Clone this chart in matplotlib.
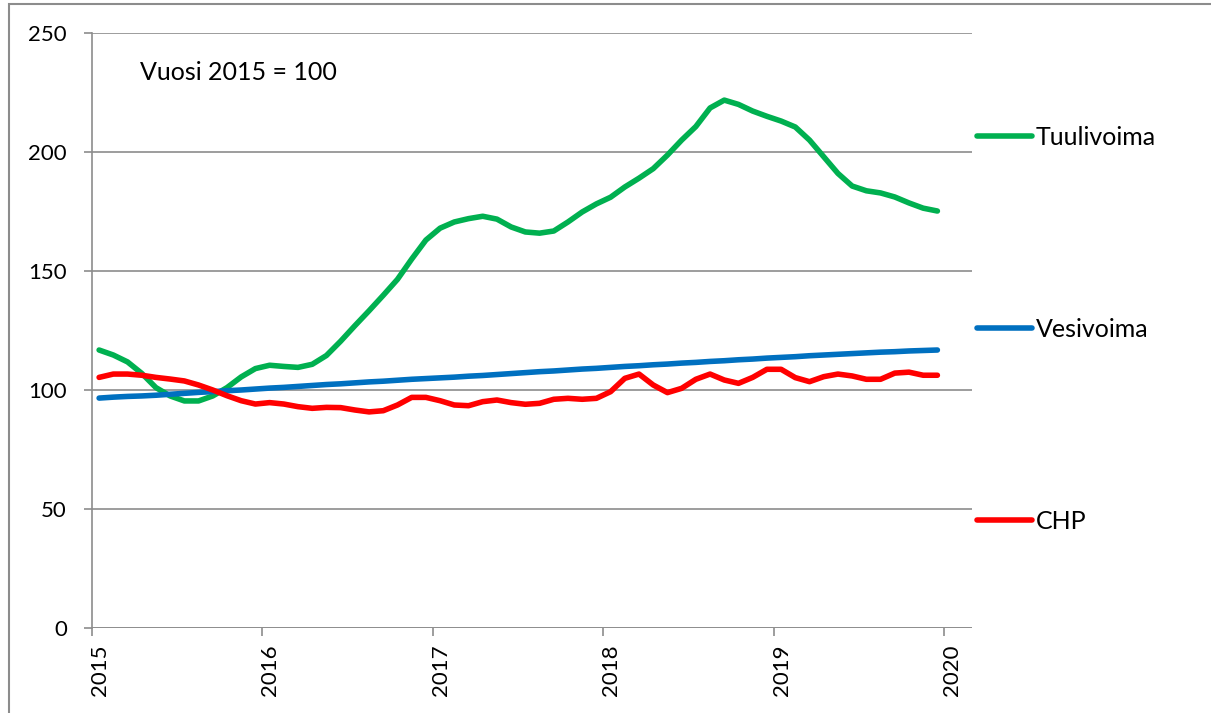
import numpy as np
import matplotlib
matplotlib.use("Agg")
import matplotlib.pyplot as plt
import matplotlib.transforms as mtransforms
from matplotlib.patches import Rectangle

plt.rcParams['font.family'] = ['Lato', 'DejaVu Sans']

# monthly index values 2015-01 ... 2019-12 (2015 = 100)
tuulivoima = [116.8, 114.7, 111.8, 107.0, 101.0, 97.5, 95.4, 95.4, 97.5, 101.0,
              105.5, 109.0, 110.4, 109.9, 109.5, 110.8, 114.5, 120.5, 127.0, 133.3,
              139.8, 146.5, 155.0, 163.0, 168.0, 170.6, 172.0, 173.0, 171.8, 168.5,
              166.4, 165.9, 166.8, 170.6, 174.8, 178.2, 181.0, 185.3, 189.0, 193.0,
              198.7, 205.0, 210.7, 218.5, 221.8, 220.0, 217.2, 215.0, 213.0, 210.5,
              205.0, 198.0, 191.0, 185.7, 183.7, 182.8, 181.1, 178.6, 176.4, 175.2]
vesivoima = [96.6, 97.0, 97.3, 97.5, 97.8, 98.2, 98.6, 99.0, 99.3, 99.7,
             100.0, 100.4, 100.8, 101.1, 101.5, 101.9, 102.3, 102.6, 103.0, 103.4,
             103.7, 104.1, 104.5, 104.8, 105.1, 105.4, 105.8, 106.1, 106.5, 106.9,
             107.3, 107.7, 108.0, 108.4, 108.8, 109.1, 109.5, 109.9, 110.2, 110.6,
             110.9, 111.3, 111.6, 112.0, 112.3, 112.7, 113.0, 113.4, 113.7, 114.0,
             114.4, 114.7, 115.0, 115.3, 115.6, 115.9, 116.1, 116.4, 116.6, 116.8]
chp = [105.3, 106.7, 106.7, 106.2, 105.3, 104.6, 103.8, 102.1, 100.0, 97.6,
       95.5, 94.1, 94.7, 94.1, 93.0, 92.3, 92.7, 92.6, 91.6, 90.8,
       91.3, 93.7, 96.9, 96.9, 95.5, 93.7, 93.4, 95.1, 95.8, 94.7,
       94.0, 94.4, 96.1, 96.5, 96.1, 96.5, 99.3, 104.9, 106.7, 102.1,
       98.9, 100.7, 104.5, 106.7, 104.2, 102.8, 105.3, 108.7, 108.7, 105.2,
       103.5, 105.6, 106.7, 105.9, 104.5, 104.5, 107.1, 107.5, 106.2, 106.2]
years = [2015, 2016, 2017, 2018, 2019, 2020]
yticks = [0, 50, 100, 150, 200, 250]

# mid-month positions in decimal years
months = np.arange(len(tuulivoima))
x = years[0] + (months + 0.5) / 12

fig = plt.figure(figsize=(12.11, 7.13), dpi=100)
ax = fig.add_axes([92 / 1211, 1 - 628 / 713, 880 / 1211, 595 / 713])

grid_col = '#8c8c8c'
lw = 4.0
ax.plot(x, tuulivoima, color='#00B050', lw=lw, solid_capstyle='round',
        solid_joinstyle='round', label='Tuulivoima')
ax.plot(x, vesivoima, color='#0070C0', lw=lw, solid_capstyle='round',
        solid_joinstyle='round', label='Vesivoima')
ax.plot(x, chp, color='#FF0000', lw=lw, solid_capstyle='round',
        solid_joinstyle='round', label='CHP')

ax.set_xlim(2015, 2015 + 880 / 170.5)
ax.set_ylim(0, 250)
ax.set_yticks(yticks)
ax.set_xticks(years)
ax.set_xticklabels([str(y) for y in years], rotation=90)
ax.yaxis.grid(True, color=grid_col, lw=1.2)
ax.set_axisbelow(True)
for s in ['top', 'right', 'bottom']:
    ax.spines[s].set_visible(False)
ax.spines['left'].set_color(grid_col)
ax.spines['left'].set_linewidth(1.2)
ax.axhline(0, color=grid_col, lw=1.2, zorder=0.5)
ax.tick_params(axis='y', length=6, width=1.2, color=grid_col, pad=12,
               labelsize=16, labelcolor='black')
ax.tick_params(axis='x', length=6, width=1.2, color=grid_col, pad=6,
               labelsize=16, labelcolor='black')
offset = mtransforms.ScaledTranslation(8 / 100, 0, fig.dpi_scale_trans)
for lab in ax.get_xticklabels():
    lab.set_transform(lab.get_transform() + offset)

ax.text(0.0545, 0.933, 'Vuosi 2015 = 100', transform=ax.transAxes,
        fontsize=18, va='center', ha='left')

leg = ax.legend(loc='center left', bbox_to_anchor=(1.0057, 0.502),
                frameon=False, fontsize=18, borderaxespad=0, borderpad=0,
                handlelength=2.2, handletextpad=0.16, labelspacing=6.75)

# outer chart frame
fig.patches.append(Rectangle((9 / 1211, -0.05), 1.1, 1 - 4 / 713 + 0.05,
                             transform=fig.transFigure, fill=False,
                             edgecolor=grid_col, lw=1.5))

fig.savefig('out.png', dpi=100)
